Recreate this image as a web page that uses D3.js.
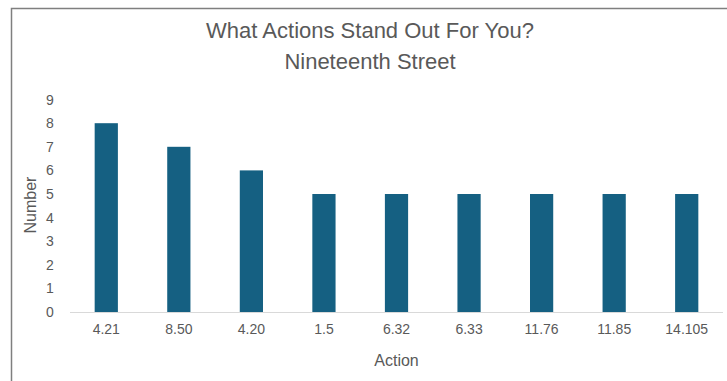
<!DOCTYPE html>
<html><head><meta charset="utf-8">
<script src="https://cdn.jsdelivr.net/npm/d3@7"></script>
<style>body{margin:0;background:#fff}svg{display:block}text{font-family:"Liberation Sans",Arial,sans-serif}</style>
</head><body>
<script>
const categories = ["4.21","8.50","4.20","1.5","6.32","6.33","11.76","11.85","14.105"];
const values = [8,7,6,5,5,5,5,5,5];
const yTicks = [0,1,2,3,4,5,6,7,8,9];
const titleLines = ["What Actions Stand Out For You?","Nineteenth Street"];
const xTitle = "Action", yTitle = "Number";

const W=727,H=381;
const svg=d3.select("body").append("svg").attr("width",W).attr("height",H);
// chart border (partially cropped)
svg.append("path").attr("d",`M11.5,${H} V8.5 H${W}`).attr("fill","none").attr("stroke","#7f7f7f").attr("stroke-width",1.5);

const x=d3.scaleBand().domain(categories).range([70,723]).paddingInner(0.68).paddingOuter(0.34);
const y=d3.scaleLinear().domain([0,9]).range([312,99.6]);

svg.selectAll("rect.bar").data(values).join("rect").attr("class","bar")
  .attr("x",(d,i)=>x(categories[i])).attr("width",x.bandwidth())
  .attr("y",d=>y(d)).attr("height",d=>y(0)-y(d)).attr("fill","#156082");

const xAxis=svg.append("g").attr("transform",`translate(0,${y(0)})`).call(d3.axisBottom(x).tickSize(0).tickPadding(12));
xAxis.select(".domain").attr("stroke","#d9d9d9").attr("d","M70,0.5H723");
xAxis.selectAll("text").attr("fill","#595959").attr("font-size",14);

const yAxis=svg.append("g").attr("transform","translate(58,0)").call(d3.axisLeft(y).tickValues(yTicks).tickSize(0).tickPadding(0));
yAxis.select(".domain").remove();
yAxis.selectAll("text").attr("fill","#595959").attr("font-size",14).attr("text-anchor","middle").attr("dx",-8);

svg.selectAll("text.title").data(titleLines).join("text").attr("class","title")
  .attr("x",370).attr("y",(d,i)=>38+i*31).attr("text-anchor","middle")
  .attr("fill","#595959").attr("font-size",22).text(d=>d);

svg.append("text").attr("x",396.5).attr("y",366).attr("text-anchor","middle").attr("fill","#595959").attr("font-size",16).text(xTitle);
svg.append("text").attr("transform","translate(36,205) rotate(-90)").attr("text-anchor","middle").attr("fill","#595959").attr("font-size",16).text(yTitle);
</script>
</body></html>
